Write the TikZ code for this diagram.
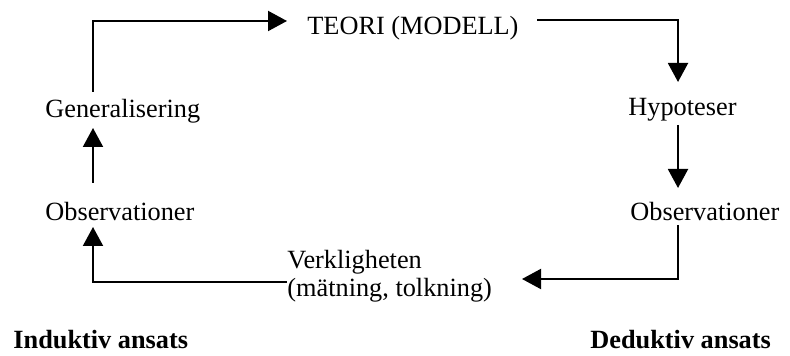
\documentclass[tikz,border=0pt]{standalone}
\usepackage{fontspec}
\setmainfont{Liberation Serif}
\usetikzlibrary{arrows.meta}
\begin{document}
\begin{tikzpicture}[x=0.5pt,y=-0.5pt,
  lbl/.style={inner sep=0pt,anchor=base west,font=\fontsize{13.15pt}{15pt}\selectfont},
  hdr/.style={lbl,font=\fontsize{13.15pt}{15pt}\selectfont\bfseries},
  arr/.style={line width=1pt,-{Triangle[length=9.5pt,width=10pt]}}]
\useasboundingbox (0,0) rectangle (790,356);
% labels
\node[lbl] (teori) at (307,35) {TEORI (MODELL)};
\node[lbl] (gen) at (45,118) {Generalisering};
\node[lbl] (hyp) at (628,116) {Hypoteser};
\node[lbl] (obsL) at (45,221) {Observationer};
\node[lbl] (obsR) at (630,221) {Observationer};
\node[lbl] (verk) at (287,269) {Verkligheten};
\node[lbl] (verk2) at (287,297) {(mätning, tolkning)};
\node[hdr] (ind) at (13,349) {Induktiv ansats};
\node[hdr] (ded) at (590,349) {Deduktiv ansats};
% connector ends
\coordinate (genTop) at (93,92);
\coordinate (teoriIn) at (287,21);
\coordinate (teoriOut) at (537,20);
\coordinate (hypIn) at (678,82);
\coordinate (hypOut) at (678,125);
\coordinate (obsRIn) at (678,188);
\coordinate (obsROut) at (678,225);
\coordinate (verkIn) at (522,279);
\coordinate (verkOut) at (287,282);
\coordinate (obsLIn) at (93,227);
\coordinate (obsLOut) at (93,183);
\coordinate (genIn) at (93,128);
% connectors
\draw[arr] (genTop) |- (teoriIn);
\draw[arr] (teoriOut) -| (hypIn);
\draw[arr] (hypOut) -- (obsRIn);
\draw[arr] (obsROut) |- (verkIn);
\draw[arr] (verkOut) -| (obsLIn);
\draw[arr] (obsLOut) -- (genIn);
\end{tikzpicture}
\end{document}
